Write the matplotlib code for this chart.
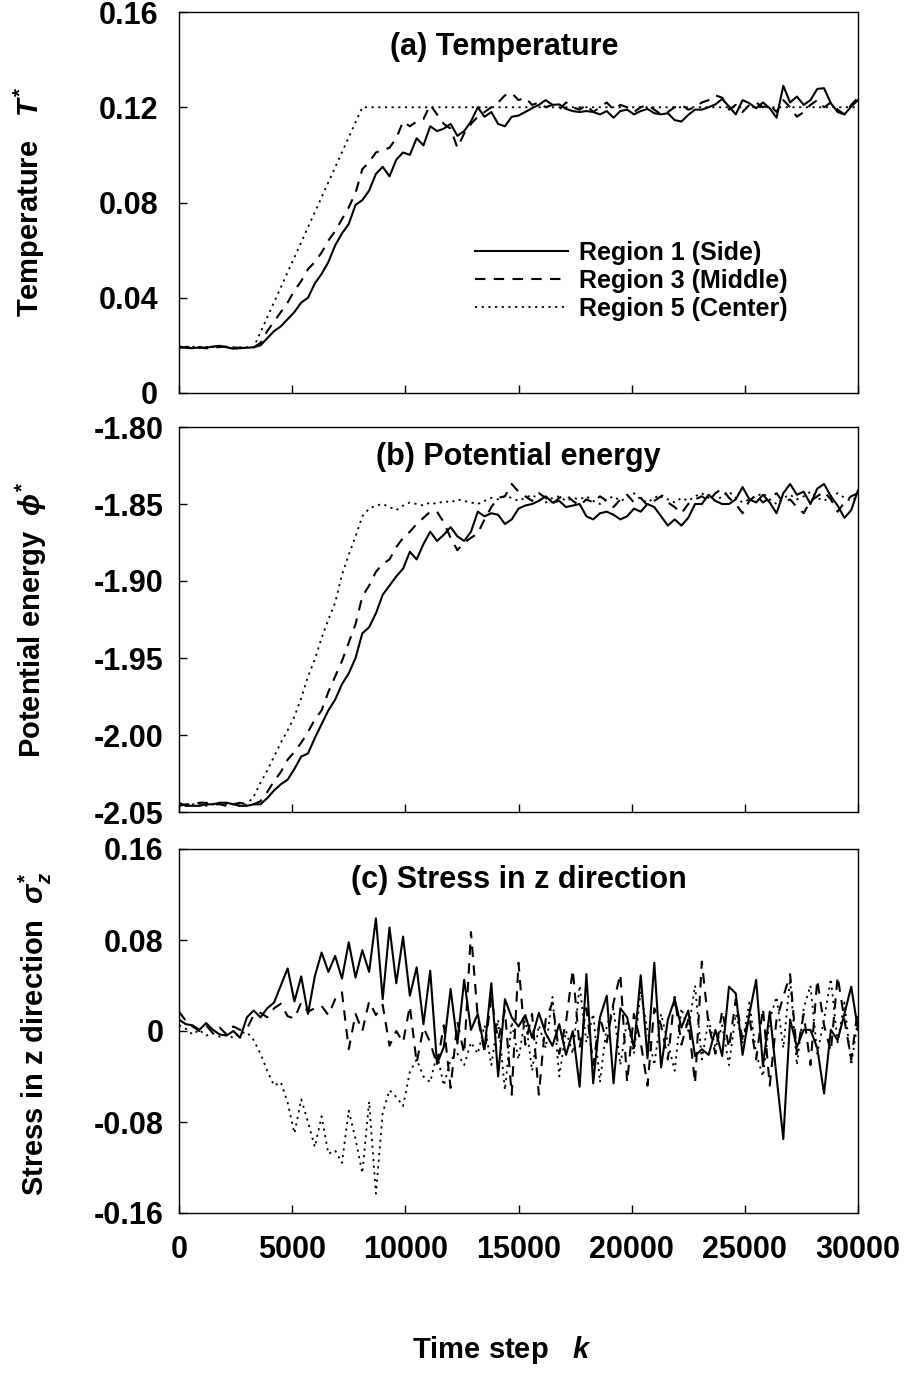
import numpy as np
import matplotlib
matplotlib.use('Agg')
import matplotlib.pyplot as plt

plt.rcParams['font.family'] = ['Liberation Sans', 'DejaVu Sans']
plt.rcParams['font.weight'] = 'bold'
plt.rcParams['mathtext.fontset'] = 'custom'
plt.rcParams['mathtext.rm'] = 'Liberation Sans:bold'
plt.rcParams['mathtext.it'] = 'Liberation Sans:italic:bold'
plt.rcParams['mathtext.bf'] = 'Liberation Sans:bold'
plt.rcParams['axes.unicode_minus'] = False

## Dane
k = np.arange(0, 30001, 300)  # krok czasowy

labels = ['Region 1 (Side)', 'Region 3 (Middle)', 'Region 5 (Center)']

# (a) Temperatura
T_side = [0.0195, 0.019, 0.0188, 0.0192, 0.019, 0.0195, 0.0198, 0.0192, 0.0186, 0.0188, 0.019, 0.0192,
          0.020, 0.023, 0.026, 0.028, 0.031, 0.034, 0.038, 0.040,
          0.046, 0.050, 0.055, 0.062, 0.067, 0.071, 0.079, 0.081, 0.085, 0.092,
          0.095, 0.091, 0.098, 0.101, 0.100, 0.107, 0.104, 0.112, 0.110, 0.111,
          0.113, 0.108, 0.110, 0.114, 0.120, 0.116, 0.118, 0.113, 0.112, 0.116,
          0.1165, 0.118, 0.1196, 0.121, 0.123, 0.121, 0.1212, 0.1193, 0.1184, 0.118,
          0.1184, 0.118, 0.117, 0.1184, 0.1156, 0.1184, 0.119, 0.117, 0.1184, 0.1193,
          0.1175, 0.117, 0.1175, 0.1146, 0.114, 0.1168, 0.119, 0.119, 0.120, 0.1212,
          0.1235, 0.1203, 0.117, 0.123, 0.1217, 0.1196, 0.122, 0.1196, 0.1156, 0.129,
          0.122, 0.1245, 0.121, 0.123, 0.1277, 0.128, 0.1217, 0.118, 0.117, 0.1203, 0.123]
T_middle = [0.019, 0.0192, 0.0195, 0.019, 0.0188, 0.019, 0.0193, 0.0195, 0.0192, 0.0189, 0.019, 0.0192,
            0.021, 0.026, 0.030, 0.034, 0.038, 0.043, 0.047, 0.052,
            0.055, 0.059, 0.064, 0.068, 0.073, 0.078, 0.084, 0.094, 0.097, 0.101,
            0.102, 0.103, 0.107, 0.114, 0.112, 0.114, 0.115, 0.121, 0.117, 0.113,
            0.111, 0.103, 0.109, 0.113, 0.116, 0.118, 0.120, 0.122, 0.125, 0.126,
            0.123, 0.124, 0.121, 0.122, 0.120, 0.121, 0.119, 0.122, 0.120, 0.119,
            0.121, 0.118, 0.120, 0.122, 0.119, 0.121, 0.120, 0.118, 0.120, 0.121,
            0.119, 0.117, 0.118, 0.120, 0.121, 0.119, 0.120, 0.122, 0.123, 0.125,
            0.124, 0.119, 0.121, 0.118, 0.121, 0.122, 0.120, 0.121, 0.118, 0.123,
            0.120, 0.116, 0.118, 0.121, 0.123, 0.120, 0.122, 0.119, 0.117, 0.121, 0.124]
k_center_T = [0, 3300, 8100, 30000]
T_center = [0.0195, 0.0192, 0.120, 0.120]

# (b) Energia potencjalna
phi_side = [-2.044, -2.046, -2.046, -2.046, -2.045, -2.045, -2.044, -2.044, -2.045, -2.046, -2.046, -2.045, -2.045,
            -2.041, -2.036, -2.032, -2.029, -2.022, -2.014, -2.012,
            -2.002, -1.993, -1.984, -1.977, -1.967, -1.960, -1.950, -1.934, -1.930, -1.921,
            -1.909, -1.903, -1.897, -1.892, -1.881, -1.886, -1.876, -1.868, -1.874, -1.870,
            -1.865, -1.871, -1.874, -1.868, -1.855, -1.858, -1.856, -1.857, -1.863, -1.860,
            -1.853, -1.851, -1.850, -1.848, -1.845, -1.849, -1.848, -1.852, -1.851, -1.850,
            -1.858, -1.860, -1.856, -1.855, -1.857, -1.860, -1.858, -1.853, -1.855, -1.850,
            -1.852, -1.858, -1.864, -1.860, -1.864, -1.859, -1.850, -1.850, -1.844, -1.848,
            -1.850, -1.850, -1.847, -1.839, -1.847, -1.849, -1.844, -1.849, -1.856, -1.843,
            -1.837, -1.844, -1.842, -1.850, -1.840, -1.837, -1.845, -1.851, -1.859, -1.854, -1.841]
phi_middle = [-2.046, -2.045, -2.045, -2.044, -2.044, -2.045, -2.045, -2.046, -2.045, -2.044, -2.045, -2.045,
              -2.043, -2.037, -2.030, -2.024, -2.016, -2.011, -2.005, -1.998,
              -1.990, -1.984, -1.972, -1.962, -1.952, -1.940, -1.928, -1.910, -1.903, -1.894,
              -1.889, -1.886, -1.878, -1.872, -1.868, -1.863, -1.859, -1.855, -1.855, -1.862,
              -1.872, -1.880, -1.875, -1.872, -1.869, -1.860, -1.852, -1.846, -1.845, -1.837,
              -1.842, -1.845, -1.848, -1.843, -1.846, -1.850, -1.846, -1.844, -1.848, -1.851,
              -1.847, -1.849, -1.845, -1.848, -1.852, -1.847, -1.844, -1.849, -1.846, -1.851,
              -1.848, -1.845, -1.849, -1.852, -1.856, -1.850, -1.847, -1.845, -1.848, -1.843,
              -1.840, -1.846, -1.850, -1.856, -1.848, -1.844, -1.849, -1.846, -1.843, -1.849,
              -1.847, -1.852, -1.856, -1.848, -1.845, -1.842, -1.847, -1.855, -1.849, -1.845, -1.843]
phi_center = [-2.045, -2.046, -2.045, -2.045, -2.046, -2.045, -2.044, -2.045, -2.045, -2.046, -2.045,
              -2.040, -2.031, -2.023, -2.014, -2.005, -1.997, -1.988, -1.976, -1.962, -1.951,
              -1.937, -1.925, -1.914, -1.896, -1.883, -1.871, -1.858, -1.853, -1.851, -1.850,
              -1.852, -1.854, -1.851, -1.849, -1.850, -1.851, -1.849, -1.850, -1.848, -1.849,
              -1.847, -1.848, -1.849, -1.850, -1.848, -1.846, -1.847, -1.845, -1.846, -1.848,
              -1.846, -1.844, -1.847, -1.849, -1.846, -1.845, -1.848, -1.846, -1.847, -1.845,
              -1.848, -1.850, -1.847, -1.845, -1.848, -1.846, -1.843, -1.847, -1.849, -1.846,
              -1.844, -1.847, -1.849, -1.846, -1.848, -1.845, -1.843, -1.846, -1.848, -1.845,
              -1.842, -1.846, -1.849, -1.847, -1.845, -1.843, -1.847, -1.850, -1.846, -1.844,
              -1.847, -1.845, -1.842, -1.846, -1.848, -1.845, -1.843, -1.846, -1.848, -1.845]

# (c) Naprezenie w kierunku z
s_side = [0.010, 0.006, 0.005, 0.001, 0.007, 0.001, -0.003, -0.004, 0.000, -0.006,
          0.012, 0.018, 0.012, 0.020, 0.025, 0.040, 0.055, 0.026, 0.048, 0.015,
          0.048, 0.069, 0.052, 0.066, 0.046, 0.078, 0.047, 0.071, 0.052, 0.099,
          0.028, 0.091, 0.042, 0.083, 0.031, 0.056, 0.006, 0.053, -0.029, -0.014,
          0.037, -0.011, 0.045, 0.001, 0.015, -0.016, 0.042, -0.040, 0.028, 0.012,
          0.004, 0.014, -0.006, 0.016, -0.002, -0.013, 0.006, -0.021, 0.000, -0.049,
          0.050, -0.046, 0.012, 0.031, -0.046, 0.020, 0.012, -0.015, 0.049, -0.024,
          0.060, -0.032, 0.010, 0.028, 0.003, 0.018, -0.022, -0.016, -0.021, 0.001,
          -0.022, 0.039, 0.033, -0.021, 0.015, 0.045, -0.031, 0.017, -0.040, -0.095,
          0.010, -0.014, 0.001, 0.001, -0.015, -0.055, 0.001, -0.008, 0.015, 0.039, 0.001]
s_middle = [0.017, 0.009, 0.004, 0.000, 0.005, -0.002, 0.003, -0.003, 0.004, 0.001, 0.002,
            0.014, 0.016, 0.012, 0.020, 0.024, 0.013, 0.011, 0.025, 0.017, 0.020,
            0.022, 0.014, 0.028, 0.034, -0.016, 0.015, 0.000, 0.026, 0.014, 0.023,
            -0.013, 0.000, -0.010, 0.022, -0.028, 0.003, -0.010, -0.030, 0.005, -0.050,
            0.008, -0.020, 0.087, 0.012, -0.018, 0.030, -0.008, 0.018, -0.056, 0.060,
            -0.012, 0.015, -0.056, 0.010, 0.025, -0.020, 0.008, 0.054, -0.015, 0.020,
            -0.030, 0.012, -0.010, 0.025, 0.050, -0.045, 0.015, -0.010, -0.048, 0.020,
            0.005, -0.025, 0.030, -0.012, 0.010, -0.046, 0.061, 0.005, -0.020, 0.018,
            -0.015, 0.028, -0.008, 0.012, -0.025, 0.020, -0.048, 0.010, 0.030, 0.050,
            -0.020, 0.015, -0.030, 0.045, 0.005, -0.018, 0.048, 0.010, -0.025, 0.020]
s_center = [0.005, 0.002, -0.003, 0.001, -0.004, -0.002, -0.005, -0.003, -0.006, -0.002, -0.001,
            -0.008, -0.020, -0.035, -0.048, -0.045, -0.063, -0.090, -0.060, -0.080, -0.102,
            -0.075, -0.108, -0.105, -0.116, -0.070, -0.095, -0.125, -0.062, -0.143, -0.072,
            -0.052, -0.058, -0.066, -0.036, -0.025, -0.040, -0.045, -0.020, -0.048, -0.025,
            -0.020, -0.030, -0.010, -0.020, 0.005, -0.030, 0.010, -0.052, 0.008, -0.025,
            0.012, -0.035, 0.005, -0.015, 0.030, -0.040, 0.000, -0.020, 0.040, -0.010,
            0.015, -0.045, 0.005, 0.020, -0.030, 0.010, -0.020, 0.035, 0.000, -0.030,
            0.015, -0.010, -0.035, 0.020, 0.000, 0.040, -0.025, 0.010, -0.015, 0.005,
            -0.030, 0.015, -0.010, 0.025, -0.020, -0.040, 0.010, 0.030, -0.015, 0.046,
            -0.030, 0.020, 0.040, -0.020, 0.010, 0.046, -0.010, 0.025, -0.030, 0.010]

x_ticks = [0, 5000, 10000, 15000, 20000, 25000, 30000]
x_ticklabels = ['0', '5000', '10000', '15000', '20000', '25000', '30000']

## Styl linii
sty_side = dict(color='black', linewidth=1.5, linestyle='-')
sty_middle = dict(color='black', linewidth=1.5, linestyle=(0, (5, 4)))
sty_center = dict(color='black', linewidth=1.3, linestyle=(0, (1.2, 2.5)))

W, H = 907, 1373
fig = plt.figure(figsize=(W / 100, H / 100), dpi=100)


def make_axes(top, bottom):
    return fig.add_axes([179 / W, 1 - bottom / H, 679 / W, (bottom - top) / H])


ax_a = make_axes(12, 393)
ax_b = make_axes(427, 812)
ax_c = make_axes(849, 1213)

for ax in (ax_a, ax_b, ax_c):
    ax.set_xlim(0, 30000)
    ax.set_xticks(x_ticks)
    ax.tick_params(direction='in', length=6, width=1, labelsize=22)
    ax.tick_params(axis='y', pad=11)
    ax.tick_params(axis='x', pad=16)
    for sp in ax.spines.values():
        sp.set_linewidth(1.0)

## (a)
ax_a.plot(k, T_side, label=labels[0], **sty_side)
ax_a.plot(k, T_middle, label=labels[1], **sty_middle)
ax_a.plot(k_center_T, T_center, label=labels[2], **sty_center)
ax_a.set_ylim(0, 0.16)
ax_a.set_yticks([0, 0.04, 0.08, 0.12, 0.16])
ax_a.set_yticklabels(['0', '0.04', '0.08', '0.12', '0.16'])
ax_a.tick_params(axis='y', pad=15)
ax_a.set_xticklabels([])
ax_a.text(0.479, 0.908, '(a) Temperature', transform=ax_a.transAxes,
          ha='center', va='center', fontsize=22)
ax_a.legend(loc='upper left', bbox_to_anchor=(0.436, 0.40), frameon=False,
            fontsize=18, handlelength=3.7, handletextpad=0.45, labelspacing=0.17,
            borderpad=0, borderaxespad=0)

## (b)
ax_b.plot(k, phi_side, **sty_side)
ax_b.plot(k, phi_middle, **sty_middle)
ax_b.plot(k, phi_center, **sty_center)
ax_b.set_ylim(-2.05, -1.80)
ax_b.set_yticks([-2.05, -2.00, -1.95, -1.90, -1.85, -1.80])
ax_b.set_yticklabels(['-2.05', '-2.00', '-1.95', '-1.90', '-1.85', '-1.80'])
ax_b.set_xticklabels([])
ax_b.text(0.50, 0.922, '(b) Potential energy', transform=ax_b.transAxes,
          ha='center', va='center', fontsize=22)

## (c)
ax_c.plot(k, s_side, **sty_side)
ax_c.plot(k, s_middle, **sty_middle)
ax_c.plot(k, s_center, **sty_center)
ax_c.set_ylim(-0.16, 0.16)
ax_c.set_yticks([-0.16, -0.08, 0, 0.08, 0.16])
ax_c.set_yticklabels(['-0.16', '-0.08', '0', '0.08', '0.16'])
ax_c.set_xticklabels(x_ticklabels)
ax_c.text(0.50, 0.915, '(c) Stress in z direction', transform=ax_c.transAxes,
          ha='center', va='center', fontsize=22)

## Opisy osi
fig.text(29 / W, 1 - 202 / H, r'Temperature   $T^{*}$', rotation=90,
         ha='center', va='center', fontsize=21)
fig.text(31 / W, 1 - 620 / H, r'Potential energy  $\phi^{*}$', rotation=90,
         ha='center', va='center', fontsize=21)
fig.text(35 / W, 1 - 1034 / H, r'Stress in z direction  $\sigma_{z}^{*}$', rotation=90,
         ha='center', va='center', fontsize=21)
fig.text(502 / W, 1 - 1350 / H, r'Time step   $k$', ha='center', va='center', fontsize=21)

fig.savefig('out.png', dpi=100)
